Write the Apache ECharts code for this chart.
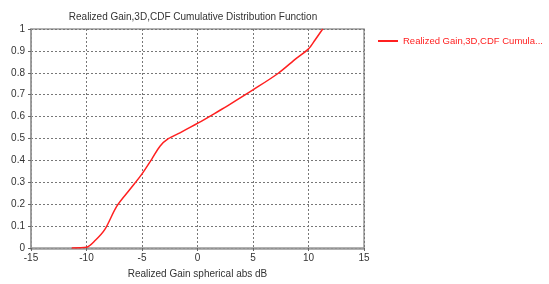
<!DOCTYPE html>
<html><head><meta charset="utf-8">
<script src="https://cdn.jsdelivr.net/npm/echarts@6/dist/echarts.min.js"></script>
<style>html,body{margin:0;padding:0;background:#fff}#c{width:549px;height:284px}</style>
</head><body><div id="c"></div>
<script>
const seriesName = 'Realized Gain,3D,CDF Cumulative Distribution Function';
const legendLabel = 'Realized Gain,3D,CDF Cumula...';
const xTitle = 'Realized Gain spherical abs dB';
const gainDb = [-11.33, -10.0, -9.2, -8.33, -7.28, -6.08, -5.03, -4.13, -3.38, -2.63, -1.58, 0.07, 2.03, 2.63, 5.03, 7.28, 8.93, 9.98, 10.59, 11.28];
const cdf =    [0.0,    0.003, 0.035, 0.086, 0.19, 0.268, 0.336, 0.405, 0.465, 0.499, 0.526, 0.571, 0.629, 0.647, 0.723, 0.798, 0.867, 0.908, 0.95, 1.0];
const font = '"Liberation Sans", sans-serif';
const chart = echarts.init(document.getElementById('c'));
chart.setOption({
  animation: false,
  title: {text: seriesName, left: 188, textAlign: 'center', top: 7,
    textStyle: {fontSize: 10, fontWeight: 'normal', color: '#333', fontFamily: font}},
  legend: {left: 373, top: 31, itemWidth: 20, itemHeight: 2, icon: 'rect', itemGap: 5,
    formatter: () => legendLabel,
    textStyle: {color: '#ff2020', fontSize: 9.5, fontFamily: font}},
  grid: {left: 31, right: 185, top: 29, bottom: 35},
  xAxis: {type: 'value', min: -15, max: 15, interval: 5,
    name: xTitle, nameLocation: 'middle', nameGap: 21,
    nameTextStyle: {fontSize: 10, color: '#333', fontFamily: font},
    axisLine: {lineStyle: {color: '#999', width: 1.5}},
    axisTick: {show: true, inside: false, length: 3, lineStyle: {color: '#666'}},
    axisLabel: {fontSize: 10, color: '#333', fontFamily: font, margin: 5},
    splitLine: {show: true, lineStyle: {type: [2, 2], color: '#777'}}},
  yAxis: {type: 'value', min: 0, max: 1, interval: 0.1,
    axisLine: {show: true, onZero: false, lineStyle: {color: '#999', width: 1.5}},
    axisTick: {show: true, length: 3, lineStyle: {color: '#666'}},
    axisLabel: {fontSize: 10, color: '#333', fontFamily: font, margin: 6,
      formatter: v => String(Math.round(v * 10) / 10)},
    splitLine: {show: true, lineStyle: {type: [2, 2], color: '#777'}}},
  series: [{
    name: seriesName, type: 'line', smooth: 0.3, showSymbol: false,
    data: gainDb.map((x, i) => [x, cdf[i]]),
    lineStyle: {color: '#ff2020', width: 1.5}, itemStyle: {color: '#ff2020'}
  }],
  graphic: [{type: 'rect', shape: {x: 31, y: 29, width: 333, height: 220},
    style: {fill: 'none', stroke: '#999', lineWidth: 1.5}, silent: true}]
});
</script></body></html>
